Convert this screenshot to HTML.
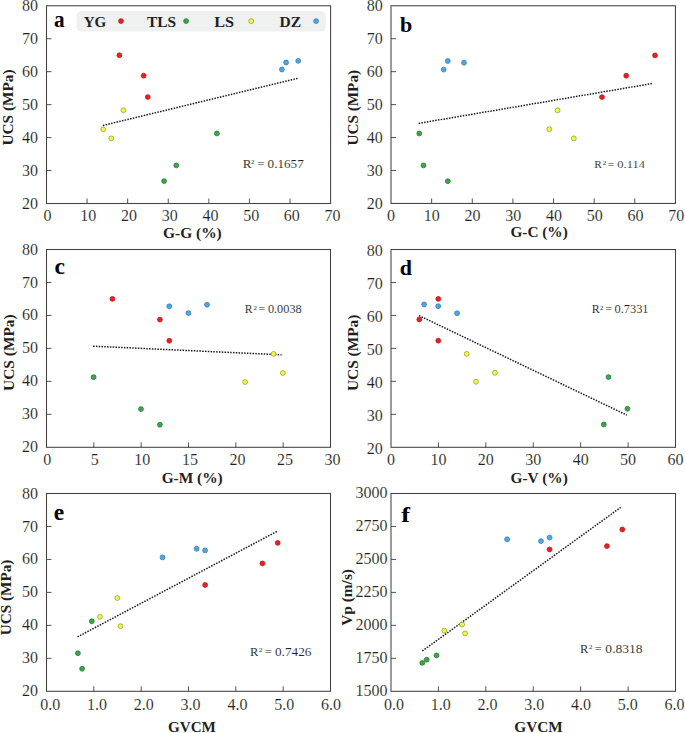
<!DOCTYPE html><html><head><meta charset="utf-8"><style>
html,body{margin:0;padding:0;background:#fff;}
svg{display:block;}
text{font-family:"Liberation Serif", serif;fill:#231f20;}
.tk{font-size:16px;stroke:#fff;stroke-width:0.12px;}
.th{stroke:#fff;stroke-width:0.1px;}
</style></head><body>
<svg width="685" height="733" viewBox="0 0 685 733">
<rect width="685" height="733" fill="#fff"/>
<rect x="76.5" y="11" width="249.3" height="20.6" rx="5" fill="#eff0f0"/>
<text x="83.74" y="26.70" textLength="22.58" lengthAdjust="spacingAndGlyphs" style="font-size:15.30px;font-weight:bold;">YG</text>
<text x="146.96" y="26.70" textLength="28.99" lengthAdjust="spacingAndGlyphs" style="font-size:15.30px;font-weight:bold;">TLS</text>
<text x="214.22" y="26.70" textLength="19.76" lengthAdjust="spacingAndGlyphs" style="font-size:15.30px;font-weight:bold;">LS</text>
<text x="279.53" y="26.70" textLength="21.56" lengthAdjust="spacingAndGlyphs" style="font-size:15.30px;font-weight:bold;">DZ</text>
<circle cx="121" cy="21.1" r="2.45" fill="#ee1d1f" stroke="#a81616" stroke-width="0.7"/>
<circle cx="186.1" cy="21.1" r="2.45" fill="#3aa848" stroke="#256a30" stroke-width="0.7"/>
<circle cx="251.2" cy="21.1" r="2.45" fill="#eefd3a" stroke="#8f8f36" stroke-width="0.7"/>
<circle cx="316.1" cy="21.1" r="2.45" fill="#4ba8ea" stroke="#34709f" stroke-width="0.7"/>
<text class="tk" x="47.4" y="220.7" text-anchor="middle">0</text>
<line x1="87.09" y1="203.5" x2="87.09" y2="198.5" stroke="#555" stroke-width="1"/>
<text class="tk" x="88.15" y="220.7" text-anchor="middle">10</text>
<line x1="127.67" y1="203.5" x2="127.67" y2="198.5" stroke="#555" stroke-width="1"/>
<text class="tk" x="128.89" y="220.7" text-anchor="middle">20</text>
<line x1="168.26" y1="203.5" x2="168.26" y2="198.5" stroke="#555" stroke-width="1"/>
<text class="tk" x="169.64" y="220.7" text-anchor="middle">30</text>
<line x1="208.84" y1="203.5" x2="208.84" y2="198.5" stroke="#555" stroke-width="1"/>
<text class="tk" x="210.38" y="220.7" text-anchor="middle">40</text>
<line x1="249.43" y1="203.5" x2="249.43" y2="198.5" stroke="#555" stroke-width="1"/>
<text class="tk" x="251.13" y="220.7" text-anchor="middle">50</text>
<line x1="290.01" y1="203.5" x2="290.01" y2="198.5" stroke="#555" stroke-width="1"/>
<text class="tk" x="291.87" y="220.7" text-anchor="middle">60</text>
<text class="tk" x="332.62" y="220.7" text-anchor="middle">70</text>
<text class="tk" x="38.1" y="208.85" text-anchor="end">20</text>
<line x1="46.5" y1="170.54" x2="51.5" y2="170.54" stroke="#555" stroke-width="1"/>
<text class="tk" x="38.1" y="175.89" text-anchor="end">30</text>
<line x1="46.5" y1="137.59" x2="51.5" y2="137.59" stroke="#555" stroke-width="1"/>
<text class="tk" x="38.1" y="142.94" text-anchor="end">40</text>
<line x1="46.5" y1="104.63" x2="51.5" y2="104.63" stroke="#555" stroke-width="1"/>
<text class="tk" x="38.1" y="109.98" text-anchor="end">50</text>
<line x1="46.5" y1="71.67" x2="51.5" y2="71.67" stroke="#555" stroke-width="1"/>
<text class="tk" x="38.1" y="77.02" text-anchor="end">60</text>
<line x1="46.5" y1="38.72" x2="51.5" y2="38.72" stroke="#555" stroke-width="1"/>
<text class="tk" x="38.1" y="44.07" text-anchor="end">70</text>
<text class="tk" x="38.1" y="11.11" text-anchor="end">80</text>
<rect x="46.5" y="5.76" width="284.1" height="197.74" fill="none" stroke="#454141" stroke-width="1.05"/>
<line x1="102.9" y1="125.5" x2="297.8" y2="78.3" stroke="#1a1718" stroke-width="1.5" stroke-dasharray="1.5 1.3"/>
<circle cx="119.4" cy="55.3" r="2.45" fill="#ee1d1f" stroke="#a81616" stroke-width="0.7"/>
<circle cx="143.7" cy="75.7" r="2.45" fill="#ee1d1f" stroke="#a81616" stroke-width="0.7"/>
<circle cx="147.8" cy="97.1" r="2.45" fill="#ee1d1f" stroke="#a81616" stroke-width="0.7"/>
<circle cx="216.9" cy="133.4" r="2.45" fill="#3aa848" stroke="#256a30" stroke-width="0.7"/>
<circle cx="176.3" cy="165.4" r="2.45" fill="#3aa848" stroke="#256a30" stroke-width="0.7"/>
<circle cx="164.1" cy="181.1" r="2.45" fill="#3aa848" stroke="#256a30" stroke-width="0.7"/>
<circle cx="123.5" cy="110.2" r="2.45" fill="#eefd3a" stroke="#8f8f36" stroke-width="0.7"/>
<circle cx="103.2" cy="129.3" r="2.45" fill="#eefd3a" stroke="#8f8f36" stroke-width="0.7"/>
<circle cx="111.3" cy="138.4" r="2.45" fill="#eefd3a" stroke="#8f8f36" stroke-width="0.7"/>
<circle cx="286.1" cy="62.5" r="2.45" fill="#4ba8ea" stroke="#34709f" stroke-width="0.7"/>
<circle cx="298.2" cy="60.9" r="2.45" fill="#4ba8ea" stroke="#34709f" stroke-width="0.7"/>
<circle cx="281.9" cy="69.5" r="2.45" fill="#4ba8ea" stroke="#34709f" stroke-width="0.7"/>
<text class="th" x="242.72" y="167.90" style="font-size:13.13px">R</text>
<text x="250.90" y="163.80" style="font-size:6.80px">2</text>
<text class="th" x="257.24" y="167.90" style="font-size:13.13px">=</text>
<text class="th" x="267.60" y="167.90" textLength="36.18" lengthAdjust="spacingAndGlyphs" style="font-size:13.13px;">0.1657</text>
<text x="54.12" y="27.40" textLength="10.60" lengthAdjust="spacingAndGlyphs" style="font-size:23.20px;font-weight:bold;fill:#000;">a</text>
<text x="163.05" y="238.00" textLength="58.63" lengthAdjust="spacingAndGlyphs" style="font-size:15.30px;font-weight:bold;">G-G (%)</text>
<text transform="translate(12.90 145.58) rotate(-90)" x="0" y="0" textLength="76.15" lengthAdjust="spacingAndGlyphs" style="font-size:15.30px;font-weight:bold;">UCS (MPa)</text>
<text class="tk" x="391" y="220.75" text-anchor="middle">0</text>
<line x1="431.64" y1="203.45" x2="431.64" y2="198.45" stroke="#555" stroke-width="1"/>
<text class="tk" x="431.76" y="220.75" text-anchor="middle">10</text>
<line x1="472.27" y1="203.45" x2="472.27" y2="198.45" stroke="#555" stroke-width="1"/>
<text class="tk" x="472.51" y="220.75" text-anchor="middle">20</text>
<line x1="512.91" y1="203.45" x2="512.91" y2="198.45" stroke="#555" stroke-width="1"/>
<text class="tk" x="513.27" y="220.75" text-anchor="middle">30</text>
<line x1="553.54" y1="203.45" x2="553.54" y2="198.45" stroke="#555" stroke-width="1"/>
<text class="tk" x="554.02" y="220.75" text-anchor="middle">40</text>
<line x1="594.18" y1="203.45" x2="594.18" y2="198.45" stroke="#555" stroke-width="1"/>
<text class="tk" x="594.78" y="220.75" text-anchor="middle">50</text>
<line x1="634.81" y1="203.45" x2="634.81" y2="198.45" stroke="#555" stroke-width="1"/>
<text class="tk" x="635.53" y="220.75" text-anchor="middle">60</text>
<text class="tk" x="676.29" y="220.75" text-anchor="middle">70</text>
<text class="tk" x="382.7" y="208.95" text-anchor="end">20</text>
<line x1="391" y1="170.5" x2="396" y2="170.5" stroke="#555" stroke-width="1"/>
<text class="tk" x="382.7" y="176" text-anchor="end">30</text>
<line x1="391" y1="137.55" x2="396" y2="137.55" stroke="#555" stroke-width="1"/>
<text class="tk" x="382.7" y="143.05" text-anchor="end">40</text>
<line x1="391" y1="104.6" x2="396" y2="104.6" stroke="#555" stroke-width="1"/>
<text class="tk" x="382.7" y="110.1" text-anchor="end">50</text>
<line x1="391" y1="71.66" x2="396" y2="71.66" stroke="#555" stroke-width="1"/>
<text class="tk" x="382.7" y="77.16" text-anchor="end">60</text>
<line x1="391" y1="38.71" x2="396" y2="38.71" stroke="#555" stroke-width="1"/>
<text class="tk" x="382.7" y="44.21" text-anchor="end">70</text>
<text class="tk" x="382.7" y="11.26" text-anchor="end">80</text>
<rect x="391" y="5.76" width="284.45" height="197.69" fill="none" stroke="#454141" stroke-width="1.05"/>
<line x1="418.6" y1="123.4" x2="652.9" y2="83.4" stroke="#1a1718" stroke-width="1.5" stroke-dasharray="1.5 1.3"/>
<circle cx="655" cy="55.4" r="2.45" fill="#ee1d1f" stroke="#a81616" stroke-width="0.7"/>
<circle cx="626.2" cy="75.7" r="2.45" fill="#ee1d1f" stroke="#a81616" stroke-width="0.7"/>
<circle cx="602" cy="97.1" r="2.45" fill="#ee1d1f" stroke="#a81616" stroke-width="0.7"/>
<circle cx="419.3" cy="133.5" r="2.45" fill="#3aa848" stroke="#256a30" stroke-width="0.7"/>
<circle cx="423.5" cy="165.4" r="2.45" fill="#3aa848" stroke="#256a30" stroke-width="0.7"/>
<circle cx="447.8" cy="181.2" r="2.45" fill="#3aa848" stroke="#256a30" stroke-width="0.7"/>
<circle cx="557.6" cy="110.3" r="2.45" fill="#eefd3a" stroke="#8f8f36" stroke-width="0.7"/>
<circle cx="549.3" cy="129.2" r="2.45" fill="#eefd3a" stroke="#8f8f36" stroke-width="0.7"/>
<circle cx="573.8" cy="138.4" r="2.45" fill="#eefd3a" stroke="#8f8f36" stroke-width="0.7"/>
<circle cx="447.8" cy="61" r="2.45" fill="#4ba8ea" stroke="#34709f" stroke-width="0.7"/>
<circle cx="464" cy="62.7" r="2.45" fill="#4ba8ea" stroke="#34709f" stroke-width="0.7"/>
<circle cx="443.7" cy="69.6" r="2.45" fill="#4ba8ea" stroke="#34709f" stroke-width="0.7"/>
<text class="th" x="594.27" y="167.70" style="font-size:11.30px">R</text>
<text x="602.70" y="164.80" style="font-size:6.80px">2</text>
<text class="th" x="607.84" y="167.70" style="font-size:11.30px">=</text>
<text class="th" x="617.33" y="167.70" textLength="27.56" lengthAdjust="spacingAndGlyphs" style="font-size:11.30px;">0.114</text>
<text x="399.92" y="32.00" textLength="12.27" lengthAdjust="spacingAndGlyphs" style="font-size:21.00px;font-weight:bold;fill:#000;">b</text>
<text x="510.45" y="237.40" textLength="57.32" lengthAdjust="spacingAndGlyphs" style="font-size:15.30px;font-weight:bold;">G-C (%)</text>
<text transform="translate(357.70 145.58) rotate(-90)" x="0" y="0" textLength="75.65" lengthAdjust="spacingAndGlyphs" style="font-size:15.30px;font-weight:bold;">UCS (MPa)</text>
<text class="tk" x="47.25" y="464.75" text-anchor="middle">0</text>
<line x1="93.83" y1="447.3" x2="93.83" y2="442.3" stroke="#555" stroke-width="1"/>
<text class="tk" x="94.8" y="464.75" text-anchor="middle">5</text>
<line x1="141.17" y1="447.3" x2="141.17" y2="442.3" stroke="#555" stroke-width="1"/>
<text class="tk" x="142.36" y="464.75" text-anchor="middle">10</text>
<line x1="188.5" y1="447.3" x2="188.5" y2="442.3" stroke="#555" stroke-width="1"/>
<text class="tk" x="189.91" y="464.75" text-anchor="middle">15</text>
<line x1="235.83" y1="447.3" x2="235.83" y2="442.3" stroke="#555" stroke-width="1"/>
<text class="tk" x="237.46" y="464.75" text-anchor="middle">20</text>
<line x1="283.17" y1="447.3" x2="283.17" y2="442.3" stroke="#555" stroke-width="1"/>
<text class="tk" x="285.02" y="464.75" text-anchor="middle">25</text>
<text class="tk" x="332.57" y="464.75" text-anchor="middle">30</text>
<text class="tk" x="38.1" y="452.35" text-anchor="end">20</text>
<line x1="46.5" y1="414.33" x2="51.5" y2="414.33" stroke="#555" stroke-width="1"/>
<text class="tk" x="38.1" y="419.38" text-anchor="end">30</text>
<line x1="46.5" y1="381.37" x2="51.5" y2="381.37" stroke="#555" stroke-width="1"/>
<text class="tk" x="38.1" y="386.42" text-anchor="end">40</text>
<line x1="46.5" y1="348.4" x2="51.5" y2="348.4" stroke="#555" stroke-width="1"/>
<text class="tk" x="38.1" y="353.45" text-anchor="end">50</text>
<line x1="46.5" y1="315.43" x2="51.5" y2="315.43" stroke="#555" stroke-width="1"/>
<text class="tk" x="38.1" y="320.48" text-anchor="end">60</text>
<line x1="46.5" y1="282.47" x2="51.5" y2="282.47" stroke="#555" stroke-width="1"/>
<text class="tk" x="38.1" y="287.52" text-anchor="end">70</text>
<text class="tk" x="38.1" y="254.55" text-anchor="end">80</text>
<rect x="46.5" y="249.5" width="284" height="197.8" fill="none" stroke="#454141" stroke-width="1.05"/>
<line x1="93.1" y1="346.2" x2="281.5" y2="354.8" stroke="#1a1718" stroke-width="1.5" stroke-dasharray="1.5 1.3"/>
<circle cx="112.4" cy="298.9" r="2.45" fill="#ee1d1f" stroke="#a81616" stroke-width="0.7"/>
<circle cx="159.9" cy="319.6" r="2.45" fill="#ee1d1f" stroke="#a81616" stroke-width="0.7"/>
<circle cx="169.3" cy="340.8" r="2.45" fill="#ee1d1f" stroke="#a81616" stroke-width="0.7"/>
<circle cx="93.6" cy="377.2" r="2.45" fill="#3aa848" stroke="#256a30" stroke-width="0.7"/>
<circle cx="141" cy="409.1" r="2.45" fill="#3aa848" stroke="#256a30" stroke-width="0.7"/>
<circle cx="159.9" cy="424.7" r="2.45" fill="#3aa848" stroke="#256a30" stroke-width="0.7"/>
<circle cx="273.6" cy="353.9" r="2.45" fill="#eefd3a" stroke="#8f8f36" stroke-width="0.7"/>
<circle cx="245.1" cy="382" r="2.45" fill="#eefd3a" stroke="#8f8f36" stroke-width="0.7"/>
<circle cx="282.9" cy="373" r="2.45" fill="#eefd3a" stroke="#8f8f36" stroke-width="0.7"/>
<circle cx="169.3" cy="306.3" r="2.45" fill="#4ba8ea" stroke="#34709f" stroke-width="0.7"/>
<circle cx="188.4" cy="313.1" r="2.45" fill="#4ba8ea" stroke="#34709f" stroke-width="0.7"/>
<circle cx="207" cy="304.7" r="2.45" fill="#4ba8ea" stroke="#34709f" stroke-width="0.7"/>
<text class="th" x="244.86" y="313.30" style="font-size:11.60px">R</text>
<text x="253.60" y="310.20" style="font-size:6.80px">2</text>
<text class="th" x="258.62" y="313.30" style="font-size:11.60px">=</text>
<text class="th" x="267.93" y="313.30" textLength="33.73" lengthAdjust="spacingAndGlyphs" style="font-size:11.60px;">0.0038</text>
<text x="54.49" y="273.80" textLength="10.50" lengthAdjust="spacingAndGlyphs" style="font-size:23.10px;font-weight:bold;fill:#000;">c</text>
<text x="161.65" y="483.30" textLength="61.03" lengthAdjust="spacingAndGlyphs" style="font-size:15.30px;font-weight:bold;">G-M (%)</text>
<text transform="translate(13.80 390.88) rotate(-90)" x="0" y="0" textLength="76.56" lengthAdjust="spacingAndGlyphs" style="font-size:15.30px;font-weight:bold;">UCS (MPa)</text>
<text class="tk" x="391" y="464.7" text-anchor="middle">0</text>
<line x1="438.42" y1="447.3" x2="438.42" y2="442.3" stroke="#555" stroke-width="1"/>
<text class="tk" x="438.42" y="464.7" text-anchor="middle">10</text>
<line x1="485.83" y1="447.3" x2="485.83" y2="442.3" stroke="#555" stroke-width="1"/>
<text class="tk" x="485.83" y="464.7" text-anchor="middle">20</text>
<line x1="533.25" y1="447.3" x2="533.25" y2="442.3" stroke="#555" stroke-width="1"/>
<text class="tk" x="533.25" y="464.7" text-anchor="middle">30</text>
<line x1="580.67" y1="447.3" x2="580.67" y2="442.3" stroke="#555" stroke-width="1"/>
<text class="tk" x="580.67" y="464.7" text-anchor="middle">40</text>
<line x1="628.08" y1="447.3" x2="628.08" y2="442.3" stroke="#555" stroke-width="1"/>
<text class="tk" x="628.08" y="464.7" text-anchor="middle">50</text>
<text class="tk" x="675.5" y="464.7" text-anchor="middle">60</text>
<text class="tk" x="382.7" y="453.85" text-anchor="end">20</text>
<line x1="391" y1="414.33" x2="396" y2="414.33" stroke="#555" stroke-width="1"/>
<text class="tk" x="382.7" y="420.88" text-anchor="end">30</text>
<line x1="391" y1="381.37" x2="396" y2="381.37" stroke="#555" stroke-width="1"/>
<text class="tk" x="382.7" y="387.92" text-anchor="end">40</text>
<line x1="391" y1="348.4" x2="396" y2="348.4" stroke="#555" stroke-width="1"/>
<text class="tk" x="382.7" y="354.95" text-anchor="end">50</text>
<line x1="391" y1="315.43" x2="396" y2="315.43" stroke="#555" stroke-width="1"/>
<text class="tk" x="382.7" y="321.98" text-anchor="end">60</text>
<line x1="391" y1="282.47" x2="396" y2="282.47" stroke="#555" stroke-width="1"/>
<text class="tk" x="382.7" y="289.02" text-anchor="end">70</text>
<text class="tk" x="382.7" y="256.05" text-anchor="end">80</text>
<rect x="391" y="249.5" width="284.5" height="197.8" fill="none" stroke="#454141" stroke-width="1.05"/>
<line x1="419" y1="315.6" x2="626.8" y2="415.1" stroke="#1a1718" stroke-width="1.5" stroke-dasharray="1.5 1.3"/>
<circle cx="438.3" cy="298.9" r="2.45" fill="#ee1d1f" stroke="#a81616" stroke-width="0.7"/>
<circle cx="419.3" cy="319.5" r="2.45" fill="#ee1d1f" stroke="#a81616" stroke-width="0.7"/>
<circle cx="438.3" cy="340.7" r="2.45" fill="#ee1d1f" stroke="#a81616" stroke-width="0.7"/>
<circle cx="608.5" cy="377.1" r="2.45" fill="#3aa848" stroke="#256a30" stroke-width="0.7"/>
<circle cx="627.4" cy="408.8" r="2.45" fill="#3aa848" stroke="#256a30" stroke-width="0.7"/>
<circle cx="603.8" cy="424.5" r="2.45" fill="#3aa848" stroke="#256a30" stroke-width="0.7"/>
<circle cx="466.7" cy="353.9" r="2.45" fill="#eefd3a" stroke="#8f8f36" stroke-width="0.7"/>
<circle cx="495" cy="372.8" r="2.45" fill="#eefd3a" stroke="#8f8f36" stroke-width="0.7"/>
<circle cx="476" cy="381.8" r="2.45" fill="#eefd3a" stroke="#8f8f36" stroke-width="0.7"/>
<circle cx="424.1" cy="304.5" r="2.45" fill="#4ba8ea" stroke="#34709f" stroke-width="0.7"/>
<circle cx="438.2" cy="306.2" r="2.45" fill="#4ba8ea" stroke="#34709f" stroke-width="0.7"/>
<circle cx="457.1" cy="313.3" r="2.45" fill="#4ba8ea" stroke="#34709f" stroke-width="0.7"/>
<text class="th" x="591.85" y="313.40" style="font-size:12.06px">R</text>
<text x="600.00" y="310.00" style="font-size:6.80px">2</text>
<text class="th" x="605.20" y="313.40" style="font-size:12.06px">=</text>
<text class="th" x="614.53" y="313.40" textLength="34.01" lengthAdjust="spacingAndGlyphs" style="font-size:12.06px;">0.7331</text>
<text x="399.71" y="275.00" textLength="12.24" lengthAdjust="spacingAndGlyphs" style="font-size:21.20px;font-weight:bold;fill:#000;">d</text>
<text x="510.45" y="483.30" textLength="57.32" lengthAdjust="spacingAndGlyphs" style="font-size:15.30px;font-weight:bold;">G-V (%)</text>
<text transform="translate(357.70 391.08) rotate(-90)" x="0" y="0" textLength="76.46" lengthAdjust="spacingAndGlyphs" style="font-size:15.30px;font-weight:bold;">UCS (MPa)</text>
<text class="tk" x="50.2" y="709.8" text-anchor="middle">0.0</text>
<line x1="93.83" y1="691.3" x2="93.83" y2="686.3" stroke="#555" stroke-width="1"/>
<text class="tk" x="97" y="709.8" text-anchor="middle">1.0</text>
<line x1="141.17" y1="691.3" x2="141.17" y2="686.3" stroke="#555" stroke-width="1"/>
<text class="tk" x="143.8" y="709.8" text-anchor="middle">2.0</text>
<line x1="188.5" y1="691.3" x2="188.5" y2="686.3" stroke="#555" stroke-width="1"/>
<text class="tk" x="190.6" y="709.8" text-anchor="middle">3.0</text>
<line x1="235.83" y1="691.3" x2="235.83" y2="686.3" stroke="#555" stroke-width="1"/>
<text class="tk" x="237.4" y="709.8" text-anchor="middle">4.0</text>
<line x1="283.17" y1="691.3" x2="283.17" y2="686.3" stroke="#555" stroke-width="1"/>
<text class="tk" x="284.2" y="709.8" text-anchor="middle">5.0</text>
<text class="tk" x="331" y="709.8" text-anchor="middle">6.0</text>
<text class="tk" x="38.1" y="696.35" text-anchor="end">20</text>
<line x1="46.5" y1="658.33" x2="51.5" y2="658.33" stroke="#555" stroke-width="1"/>
<text class="tk" x="38.1" y="663.38" text-anchor="end">30</text>
<line x1="46.5" y1="625.37" x2="51.5" y2="625.37" stroke="#555" stroke-width="1"/>
<text class="tk" x="38.1" y="630.42" text-anchor="end">40</text>
<line x1="46.5" y1="592.4" x2="51.5" y2="592.4" stroke="#555" stroke-width="1"/>
<text class="tk" x="38.1" y="597.45" text-anchor="end">50</text>
<line x1="46.5" y1="559.43" x2="51.5" y2="559.43" stroke="#555" stroke-width="1"/>
<text class="tk" x="38.1" y="564.48" text-anchor="end">60</text>
<line x1="46.5" y1="526.47" x2="51.5" y2="526.47" stroke="#555" stroke-width="1"/>
<text class="tk" x="38.1" y="531.52" text-anchor="end">70</text>
<text class="tk" x="38.1" y="498.55" text-anchor="end">80</text>
<rect x="46.5" y="493.5" width="284" height="197.8" fill="none" stroke="#454141" stroke-width="1.05"/>
<line x1="77.5" y1="636.9" x2="277" y2="531.4" stroke="#1a1718" stroke-width="1.5" stroke-dasharray="1.5 1.3"/>
<circle cx="277.7" cy="542.9" r="2.45" fill="#ee1d1f" stroke="#a81616" stroke-width="0.7"/>
<circle cx="262.4" cy="563.4" r="2.45" fill="#ee1d1f" stroke="#a81616" stroke-width="0.7"/>
<circle cx="205.1" cy="585" r="2.45" fill="#ee1d1f" stroke="#a81616" stroke-width="0.7"/>
<circle cx="91.8" cy="621.3" r="2.45" fill="#3aa848" stroke="#256a30" stroke-width="0.7"/>
<circle cx="77.9" cy="653.2" r="2.45" fill="#3aa848" stroke="#256a30" stroke-width="0.7"/>
<circle cx="82.1" cy="668.8" r="2.45" fill="#3aa848" stroke="#256a30" stroke-width="0.7"/>
<circle cx="117.3" cy="598" r="2.45" fill="#eefd3a" stroke="#8f8f36" stroke-width="0.7"/>
<circle cx="99.9" cy="616.9" r="2.45" fill="#eefd3a" stroke="#8f8f36" stroke-width="0.7"/>
<circle cx="120.4" cy="626.2" r="2.45" fill="#eefd3a" stroke="#8f8f36" stroke-width="0.7"/>
<circle cx="162.5" cy="557.4" r="2.45" fill="#4ba8ea" stroke="#34709f" stroke-width="0.7"/>
<circle cx="196.6" cy="548.8" r="2.45" fill="#4ba8ea" stroke="#34709f" stroke-width="0.7"/>
<circle cx="205.1" cy="550.4" r="2.45" fill="#4ba8ea" stroke="#34709f" stroke-width="0.7"/>
<text class="th" x="250.04" y="656.00" style="font-size:12.52px">R</text>
<text x="259.10" y="652.30" style="font-size:6.80px">2</text>
<text class="th" x="264.67" y="656.00" style="font-size:12.52px">=</text>
<text class="th" x="274.99" y="656.00" textLength="36.50" lengthAdjust="spacingAndGlyphs" style="font-size:12.52px;">0.7426</text>
<text x="53.70" y="519.90" textLength="10.41" lengthAdjust="spacingAndGlyphs" style="font-size:23.20px;font-weight:bold;fill:#000;">e</text>
<text x="167.96" y="731.90" textLength="47.87" lengthAdjust="spacingAndGlyphs" style="font-size:15.30px;font-weight:bold;">GVCM</text>
<text transform="translate(11.00 635.28) rotate(-90)" x="0" y="0" textLength="75.65" lengthAdjust="spacingAndGlyphs" style="font-size:15.30px;font-weight:bold;">UCS (MPa)</text>
<text class="tk" x="393.9" y="709.8" text-anchor="middle">0.0</text>
<line x1="438.42" y1="691.3" x2="438.42" y2="686.3" stroke="#555" stroke-width="1"/>
<text class="tk" x="440.67" y="709.8" text-anchor="middle">1.0</text>
<line x1="485.83" y1="691.3" x2="485.83" y2="686.3" stroke="#555" stroke-width="1"/>
<text class="tk" x="487.44" y="709.8" text-anchor="middle">2.0</text>
<line x1="533.25" y1="691.3" x2="533.25" y2="686.3" stroke="#555" stroke-width="1"/>
<text class="tk" x="534.21" y="709.8" text-anchor="middle">3.0</text>
<line x1="580.67" y1="691.3" x2="580.67" y2="686.3" stroke="#555" stroke-width="1"/>
<text class="tk" x="580.98" y="709.8" text-anchor="middle">4.0</text>
<line x1="628.08" y1="691.3" x2="628.08" y2="686.3" stroke="#555" stroke-width="1"/>
<text class="tk" x="627.75" y="709.8" text-anchor="middle">5.0</text>
<text class="tk" x="674.52" y="709.8" text-anchor="middle">6.0</text>
<text class="tk" x="387.6" y="695.9" text-anchor="end">1500</text>
<line x1="391" y1="658.33" x2="396" y2="658.33" stroke="#555" stroke-width="1"/>
<text class="tk" x="387.6" y="662.93" text-anchor="end">1750</text>
<line x1="391" y1="625.37" x2="396" y2="625.37" stroke="#555" stroke-width="1"/>
<text class="tk" x="387.6" y="629.97" text-anchor="end">2000</text>
<line x1="391" y1="592.4" x2="396" y2="592.4" stroke="#555" stroke-width="1"/>
<text class="tk" x="387.6" y="597" text-anchor="end">2250</text>
<line x1="391" y1="559.43" x2="396" y2="559.43" stroke="#555" stroke-width="1"/>
<text class="tk" x="387.6" y="564.03" text-anchor="end">2500</text>
<line x1="391" y1="526.47" x2="396" y2="526.47" stroke="#555" stroke-width="1"/>
<text class="tk" x="387.6" y="531.07" text-anchor="end">2750</text>
<text class="tk" x="387.6" y="498.1" text-anchor="end">3000</text>
<rect x="391" y="493.5" width="284.5" height="197.8" fill="none" stroke="#454141" stroke-width="1.05"/>
<line x1="422.3" y1="651" x2="620.7" y2="507.4" stroke="#1a1718" stroke-width="1.5" stroke-dasharray="1.5 1.3"/>
<circle cx="549.6" cy="549.5" r="2.45" fill="#ee1d1f" stroke="#a81616" stroke-width="0.7"/>
<circle cx="622.3" cy="529.5" r="2.45" fill="#ee1d1f" stroke="#a81616" stroke-width="0.7"/>
<circle cx="606.9" cy="546.1" r="2.45" fill="#ee1d1f" stroke="#a81616" stroke-width="0.7"/>
<circle cx="436.5" cy="655.4" r="2.45" fill="#3aa848" stroke="#256a30" stroke-width="0.7"/>
<circle cx="426.7" cy="659.7" r="2.45" fill="#3aa848" stroke="#256a30" stroke-width="0.7"/>
<circle cx="422.3" cy="662.9" r="2.45" fill="#3aa848" stroke="#256a30" stroke-width="0.7"/>
<circle cx="444.3" cy="630.6" r="2.45" fill="#eefd3a" stroke="#8f8f36" stroke-width="0.7"/>
<circle cx="462.1" cy="624.5" r="2.45" fill="#eefd3a" stroke="#8f8f36" stroke-width="0.7"/>
<circle cx="465.1" cy="633.4" r="2.45" fill="#eefd3a" stroke="#8f8f36" stroke-width="0.7"/>
<circle cx="507.1" cy="539.3" r="2.45" fill="#4ba8ea" stroke="#34709f" stroke-width="0.7"/>
<circle cx="541" cy="541.1" r="2.45" fill="#4ba8ea" stroke="#34709f" stroke-width="0.7"/>
<circle cx="549.6" cy="537.6" r="2.45" fill="#4ba8ea" stroke="#34709f" stroke-width="0.7"/>
<text class="th" x="580.04" y="653.00" style="font-size:12.52px">R</text>
<text x="589.10" y="649.30" style="font-size:6.80px">2</text>
<text class="th" x="594.67" y="653.00" style="font-size:12.52px">=</text>
<text class="th" x="605.38" y="653.00" textLength="37.23" lengthAdjust="spacingAndGlyphs" style="font-size:12.52px;">0.8318</text>
<text x="401.31" y="521.60" textLength="8.74" lengthAdjust="spacingAndGlyphs" style="font-size:21.90px;font-weight:bold;fill:#000;">f</text>
<text x="514.25" y="731.90" textLength="48.49" lengthAdjust="spacingAndGlyphs" style="font-size:15.30px;font-weight:bold;">GVCM</text>
<text transform="translate(352.00 625.77) rotate(-90)" x="0" y="0" textLength="56.75" lengthAdjust="spacingAndGlyphs" style="font-size:15.30px;font-weight:bold;">Vp (m/s)</text>
</svg></body></html>
